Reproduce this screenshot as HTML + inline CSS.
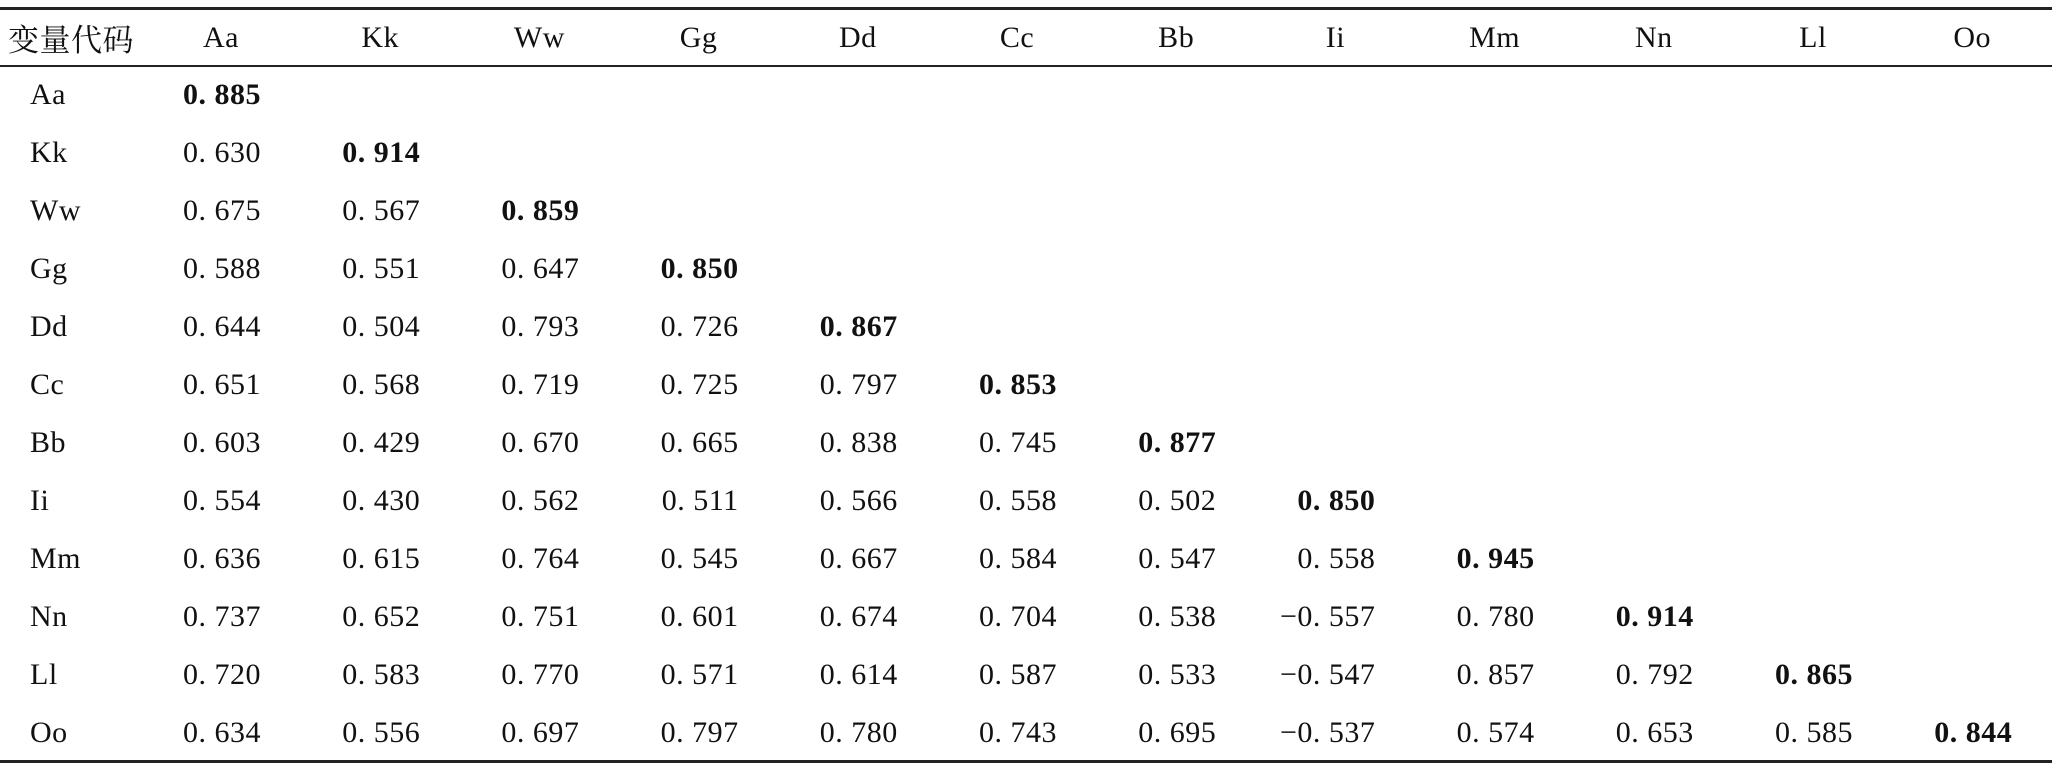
<!DOCTYPE html>
<html><head><meta charset="utf-8">
<style>
html,body{margin:0;padding:0;background:#fff;}
#wrap{position:relative;width:2064px;height:768px;overflow:hidden;font-family:"Liberation Serif","Noto Serif CJK SC",serif;color:#111;}
.t{position:absolute;font-size:30px;line-height:30px;white-space:pre;letter-spacing:0.5px;}
.h{transform:translateX(-50%);}
.v{transform:translateX(-100%);}
.b{font-weight:bold;}
.rule{position:absolute;left:0;width:2052px;background:#222;}
</style></head>
<body>
<div id="wrap">
<div class="rule" style="top:7px;height:3px"></div>
<div class="rule" style="top:65px;height:2px"></div>
<div class="rule" style="top:760px;height:3px"></div>
<div class="t" style="left:8px;top:21px;font-size:31px;line-height:34px;font-family:'Noto Serif CJK SC','Noto Sans CJK SC',serif">变量代码</div>
</div>
<script>
const labels = ["Aa","Kk","Ww","Gg","Dd","Cc","Bb","Ii","Mm","Nn","Ll","Oo"];
const rows = [
 ["0.885"],
 ["0.630","0.914"],
 ["0.675","0.567","0.859"],
 ["0.588","0.551","0.647","0.850"],
 ["0.644","0.504","0.793","0.726","0.867"],
 ["0.651","0.568","0.719","0.725","0.797","0.853"],
 ["0.603","0.429","0.670","0.665","0.838","0.745","0.877"],
 ["0.554","0.430","0.562","0.511","0.566","0.558","0.502","0.850"],
 ["0.636","0.615","0.764","0.545","0.667","0.584","0.547","0.558","0.945"],
 ["0.737","0.652","0.751","0.601","0.674","0.704","0.538","-0.557","0.780","0.914"],
 ["0.720","0.583","0.770","0.571","0.614","0.587","0.533","-0.547","0.857","0.792","0.865"],
 ["0.634","0.556","0.697","0.797","0.780","0.743","0.695","-0.537","0.574","0.653","0.585","0.844"]
];
const wrap = document.getElementById('wrap');
function colX(i){ return 221 + i*159.2; }
function rowY(i){ return 95 + i*58; }
function fmt(s){ return s.replace('-', '\u2212').replace('.', '. '); }
labels.forEach((l,i)=>{
  const h=document.createElement('div');
  h.className='t h';
  h.style.left=colX(i)+'px'; h.style.top=(38-15)+'px';
  h.textContent=l;
  
  
  wrap.appendChild(h);
  const r=document.createElement('div');
  r.className='t';
  r.style.left='30px'; r.style.top=(rowY(i)-15)+'px';
  r.textContent=l;
  
  
  wrap.appendChild(r);
});
rows.forEach((row,ri)=>{
  row.forEach((v,ci)=>{
    const c=document.createElement('div');
    c.className='t v'+(ri===ci?' b':'');
    c.style.left=(colX(ci)+40)+'px'; c.style.top=(rowY(ri)-15)+'px';
    c.textContent=fmt(v);
    
    
    wrap.appendChild(c);
  });
});
</script>
</body></html>
